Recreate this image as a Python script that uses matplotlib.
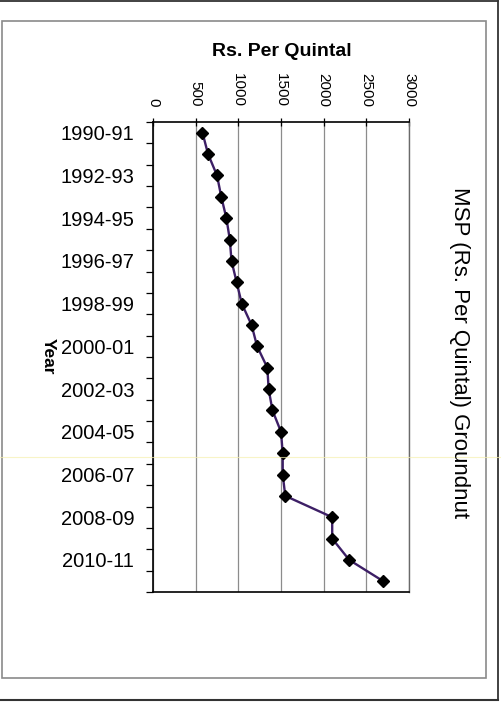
import matplotlib
matplotlib.use("Agg")
import matplotlib.pyplot as plt
from matplotlib.lines import Line2D
from matplotlib.patches import Rectangle

plt.rcParams['font.family'] = ['Liberation Sans', 'DejaVu Sans']

# Data: MSP of groundnut (Rs. per quintal) by crop year
years = ['1990-91', '1991-92', '1992-93', '1993-94', '1994-95', '1995-96',
         '1996-97', '1997-98', '1998-99', '1999-00', '2000-01', '2001-02',
         '2002-03', '2003-04', '2004-05', '2005-06', '2006-07', '2007-08',
         '2008-09', '2009-10', '2010-11', '2011-12']
msp = [580, 645, 750, 800, 860, 900, 920, 980, 1040, 1155, 1220, 1340,
       1355, 1400, 1500, 1520, 1520, 1550, 2100, 2100, 2300, 2700]
value_ticks = [0, 500, 1000, 1500, 2000, 2500, 3000]

W, H = 501, 704
fig = plt.figure(figsize=(W / 100, H / 100), dpi=100)


def px(x0, y0, x1, y1):
    # pixel box (top-left origin) -> figure fraction rect
    return [x0 / W, 1 - y1 / H, (x1 - x0) / W, (y1 - y0) / H]


# page frames (scanned document look)
l, b, w, h = px(1.5, 21, 486, 678)
fig.patches.append(Rectangle((l, b), w, h, transform=fig.transFigure,
                             fill=False, ec='#8a8a8a', lw=1.2))
fig.lines.append(Line2D([0, 497.5 / W], [1 - 0.8 / H, 1 - 0.8 / H],
                        transform=fig.transFigure, color='#333333', lw=1.3))
fig.lines.append(Line2D([497.5 / W, 497.5 / W], [1 - 0.8 / H, 1 - 700 / H],
                        transform=fig.transFigure, color='#333333', lw=1.3))
fig.lines.append(Line2D([0, 497.5 / W], [1 - 700 / H, 1 - 700 / H],
                        transform=fig.transFigure, color='#333333', lw=1.5))
# faint yellow scan streak
fig.lines.append(Line2D([0, 1], [1 - 457 / H, 1 - 457 / H],
                        transform=fig.transFigure, color='#f6f0b0', lw=0.8, alpha=0.7))

ax = fig.add_axes(px(153, 122, 409, 592))
pos = list(range(len(years)))
ax.plot(msp, pos, color='#3d1f66', lw=1.7, marker='D', markersize=6.5,
        markerfacecolor='black', markeredgecolor='black', zorder=3)

ax.set_xlim(0, 3000)
ax.set_ylim(len(years) - 0.5, -0.5)

# value axis on top, labels rotated (page turned on its side)
ax.xaxis.set_ticks_position('top')
ax.set_xticks(value_ticks)
ax.set_xticklabels([str(v) for v in value_ticks], rotation=-90, fontsize=11,
                   va='bottom', ha='center')
ax.tick_params(axis='x', direction='inout', length=6, width=0.9, pad=8)
ax.grid(axis='x', color='#8c8c8c', lw=0.9)
ax.set_axisbelow(True)

# year axis: labels on every second category, ticks between categories
ax.set_yticks(pos[::2])
ax.set_yticklabels(years[::2], fontsize=14.5)
ax.set_yticks([p - 0.5 for p in pos] + [len(years) - 0.5], minor=True)
ax.tick_params(axis='y', which='major', length=0, pad=13.5)
ax.tick_params(axis='y', which='minor', direction='out', length=5, width=0.9)

for side in ['left', 'top', 'bottom']:
    ax.spines[side].set_color('black')
    ax.spines[side].set_linewidth(1.2)
ax.spines['right'].set_color('#6a6a6a')
ax.spines['right'].set_linewidth(1.0)

fig.text(282 / W, 1 - 52 / H, 'Rs. Per Quintal', fontsize=14, fontweight='bold',
         ha='center', va='center')
fig.text(48 / W, 1 - 356 / H, 'Year', fontsize=12.5, fontweight='bold',
         rotation=-90, ha='center', va='center')
fig.text(459 / W, 1 - 353 / H, 'MSP (Rs. Per Quintal) Groundnut', fontsize=16,
         rotation=-90, ha='center', va='center')

fig.savefig('out.png', dpi=100)
